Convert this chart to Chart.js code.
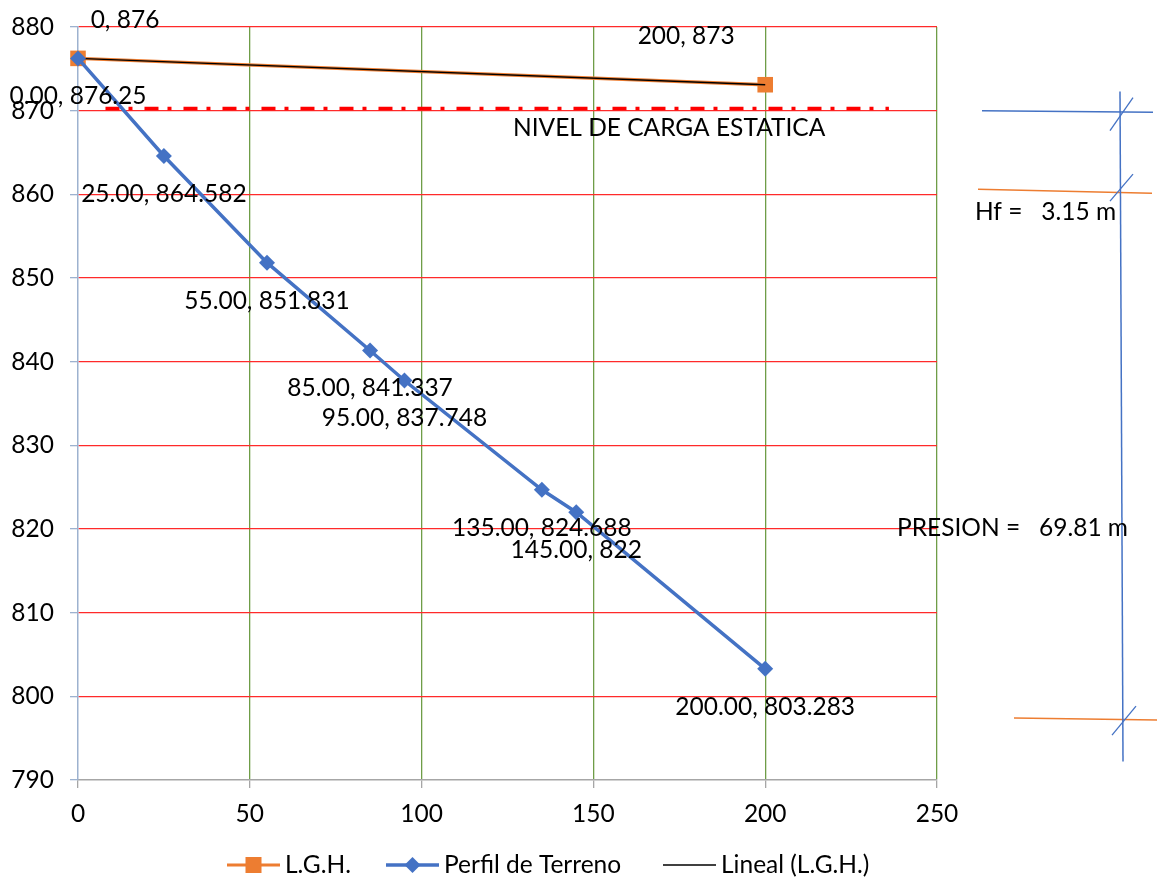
<!DOCTYPE html>
<html>
<head>
<meta charset="utf-8">
<script src="https://cdn.jsdelivr.net/npm/chart.js@4.4.1/dist/chart.umd.min.js"></script>
<style>
  html, body { margin: 0; padding: 0; background: #fff; }
  #wrap { width: 1165px; height: 883px; }
</style>
</head>
<body>
<div id="wrap"><canvas id="chart" width="1165" height="883"></canvas></div>
<script>
//--------------------------------------DATOS---------------------------------------------

// perfil de terreno: distancia (m) y cota (msnm)
const perfilX = [0, 25, 55, 85, 95, 135, 145, 200]
const perfilY = [876.25, 864.582, 851.831, 841.337, 837.748, 824.688, 822, 803.283]

// linea de gradiente hidraulico
const lghX = [0, 200]
const lghY = [876.25, 873.10]

// nivel de carga estatica
const nivelX = [8, 236]
const nivelY = [870.25, 870.25]

const xTicks = [0, 50, 100, 150, 200, 250]
const yTicks = [790, 800, 810, 820, 830, 840, 850, 860, 870, 880]

const legendNames = ['L.G.H.', 'Perfil de Terreno', 'Lineal (L.G.H.)']
const hfText = 'Hf =   3.15 m'
const presionText = 'PRESION =   69.81 m'
const nivelText = 'NIVEL DE CARGA ESTATICA'

//--------------------------------------ESTILO--------------------------------------------

const FONT = 'Lato, "Open Sans", sans-serif'
const FSIZE = 24.5
const ORANGE = '#ED7D31'
const BLUE = '#4472C4'
// posicion manual de las etiquetas de la L.G.H.
const lghLabelOffset = [[47, -38], [-79, -49]]

function toPoints(xs, ys){
    return xs.map((x, i) => ({x: x, y: ys[i]}))
}

// recta de minimos cuadrados (linea de tendencia)
function linealFit(xs, ys){
    let n = xs.length
    let sx = 0, sy = 0, sxx = 0, sxy = 0
    for(let i = 0; i < n; i++){
        sx += xs[i]; sy += ys[i]; sxx += xs[i]*xs[i]; sxy += xs[i]*ys[i]
    }
    let m = (n*sxy - sx*sy) / (n*sxx - sx*sx)
    let b = (sy - m*sx) / n
    let x0 = Math.min(...xs), x1 = Math.max(...xs)
    return [{x: x0, y: m*x0 + b}, {x: x1, y: m*x1 + b}]
}

//--------------------------------------PLUGIN--------------------------------------------

const extras = {
    id: 'extras',
    afterDatasetsDraw(chart){
        const ctx = chart.ctx
        const xs = chart.scales.x, ys = chart.scales.y
        ctx.save()
        ctx.font = FSIZE + 'px ' + FONT
        ctx.fillStyle = '#000'
        ctx.textAlign = 'center'
        ctx.textBaseline = 'middle'

        // etiquetas del perfil, debajo de cada punto
        for(let i = 0; i < perfilX.length; i++){
            let px = xs.getPixelForValue(perfilX[i])
            let py = ys.getPixelForValue(perfilY[i])
            ctx.fillText(perfilX[i].toFixed(2) + ', ' + perfilY[i], px, py + 38)
        }
        // etiquetas de la L.G.H.
        for(let i = 0; i < lghX.length; i++){
            let px = xs.getPixelForValue(lghX[i])
            let py = ys.getPixelForValue(lghY[i])
            ctx.fillText(lghX[i] + ', ' + lghY[i].toFixed(0), px + lghLabelOffset[i][0], py + lghLabelOffset[i][1])
        }
        // texto del nivel estatico
        ctx.textAlign = 'left'
        ctx.fillText(nivelText, 513, ys.getPixelForValue(nivelY[0]) + 20)
        ctx.restore()
    },
    afterDraw(chart){
        const ctx = chart.ctx
        const ys = chart.scales.y
        const R = chart.chartArea.right
        ctx.save()

        // cotas del lado derecho
        const line = (x0, y0, x1, y1, color, w) => {
            ctx.beginPath()
            ctx.strokeStyle = color
            ctx.lineWidth = w
            ctx.moveTo(x0, y0)
            ctx.lineTo(x1, y1)
            ctx.stroke()
        }
        let yTop = ys.getPixelForValue(870)
        let yHf = ys.getPixelForValue(860.5)
        let yBot = ys.getPixelForValue(797.4)
        line(R + 45, yTop, R + 216, yTop + 1.5, BLUE, 1.5)
        line(R + 41, yHf - 1, R + 215, yHf + 3, ORANGE, 1.5)
        line(R + 77, yBot, R + 220, yBot + 2, ORANGE, 1.5)
        line(R + 183, ys.getPixelForValue(872.3), R + 186, ys.getPixelForValue(792.2), BLUE, 1.5)
        line(R + 173, yTop + 20, R + 196, yTop - 13, BLUE, 1.3)
        line(R + 173, yHf + 11, R + 196, yHf - 16, BLUE, 1.3)
        line(R + 175, yBot + 17, R + 199, yBot - 12, BLUE, 1.3)

        ctx.font = FSIZE + 'px ' + FONT
        ctx.fillStyle = '#000'
        ctx.textBaseline = 'middle'
        ctx.textAlign = 'left'
        ctx.fillText(hfText, R + 38, yHf + 22)
        ctx.fillText(presionText, R - 40, ys.getPixelForValue(820.1))

        // leyenda
        let ly = 865
        let items = [
            {x: 227, color: ORANGE, w: 3, marker: 'square'},
            {x: 386, color: BLUE, w: 3.5, marker: 'diamond'},
            {x: 663, color: '#000', w: 1.3, marker: null},
        ]
        items.forEach((it, i) => {
            line(it.x, ly, it.x + 53, ly, it.color, it.w)
            let cx = it.x + 26.5
            ctx.fillStyle = it.color
            if(it.marker == 'square'){
                ctx.fillRect(cx - 8, ly - 8, 16, 16)
            } else if(it.marker == 'diamond'){
                ctx.beginPath()
                ctx.moveTo(cx, ly - 8); ctx.lineTo(cx + 8, ly); ctx.lineTo(cx, ly + 8); ctx.lineTo(cx - 8, ly)
                ctx.closePath(); ctx.fill()
            }
            ctx.fillStyle = '#000'
            ctx.fillText(legendNames[i], it.x + 58, ly)
        })
        ctx.restore()
    }
}

//--------------------------------------GRAFICO-------------------------------------------

const config = {
    type: 'scatter',
    data: {
        datasets: [
            {
                label: 'nivel',
                data: toPoints(nivelX, nivelY),
                showLine: true,
                borderColor: '#FF0000',
                borderWidth: 3.5,
                borderDash: [14, 9, 4, 12],
                pointRadius: 0,
                order: 4,
            },
            {
                label: legendNames[0],
                data: toPoints(lghX, lghY),
                showLine: true,
                clip: false,
                borderColor: ORANGE,
                borderWidth: 3.5,
                pointStyle: 'rect',
                pointRadius: 11,
                pointBackgroundColor: ORANGE,
                pointBorderColor: ORANGE,
                pointBorderWidth: 0,
                order: 3,
            },
            {
                label: legendNames[2],
                data: linealFit(lghX, lghY),
                showLine: true,
                clip: false,
                borderColor: '#000',
                borderWidth: 1.5,
                pointRadius: 0,
                order: 2,
            },
            {
                label: legendNames[1],
                data: toPoints(perfilX, perfilY),
                showLine: true,
                clip: false,
                borderColor: BLUE,
                borderWidth: 3.5,
                pointStyle: 'rectRot',
                pointRadius: 8,
                pointBackgroundColor: BLUE,
                pointBorderColor: BLUE,
                pointBorderWidth: 0,
                order: 1,
            },
        ]
    },
    options: {
        responsive: false,
        animation: false,
        layout: {padding: {left: 0, top: 27, right: 228, bottom: 0}},
        plugins: {legend: {display: false}, tooltip: {enabled: false}},
        scales: {
            x: {
                type: 'linear',
                min: xTicks[0],
                max: xTicks[xTicks.length - 1],
                afterBuildTicks: (s) => { s.ticks = xTicks.map(v => ({value: v})) },
                afterFit: (s) => { s.height = 103; s.paddingLeft = 0; s.paddingRight = 0 },
                grid: {
                    color: (c) => c.tick && c.tick.value === 0 ? 'rgba(0,0,0,0)' : '#6F9D47',
                    lineWidth: 1.3,
                    tickColor: '#A6A6A6',
                    tickLength: 8,
                },
                border: {color: '#A6A6A6', width: 1.5},
                ticks: {color: '#000', font: {family: FONT, size: FSIZE}, padding: 11, maxRotation: 0},
            },
            y: {
                type: 'linear',
                min: yTicks[0],
                max: yTicks[yTicks.length - 1],
                afterBuildTicks: (s) => { s.ticks = yTicks.map(v => ({value: v})) },
                // el area del grafico queda fija por el padding del layout
                afterFit: (s) => { s.width = 78; s.paddingTop = 0; s.paddingBottom = 0 },
                grid: {
                    color: (c) => c.tick && c.tick.value === 790 ? 'rgba(0,0,0,0)' : '#FF2A2A',
                    lineWidth: 1.3,
                    tickColor: '#9DB2CF',
                    tickLength: 8,
                },
                border: {color: '#9DB2CF', width: 1.5},
                ticks: {color: '#000', font: {family: FONT, size: FSIZE}, padding: 16},
            },
        }
    },
    plugins: [extras]
}

const chart = new Chart(document.getElementById('chart'), config)
</script>
</body>
</html>
